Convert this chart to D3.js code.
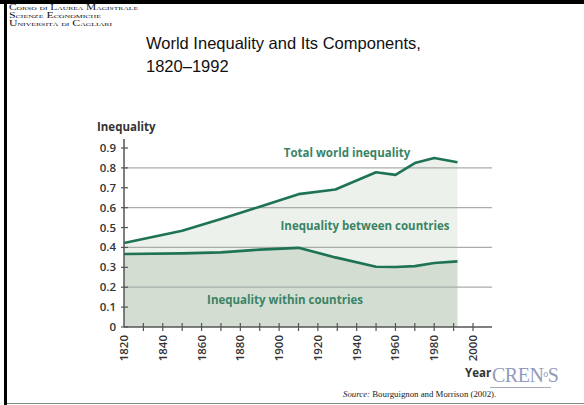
<!DOCTYPE html>
<html>
<head>
<meta charset="utf-8">
<script src="https://cdnjs.cloudflare.com/ajax/libs/d3/7.8.5/d3.min.js"></script>
<style>
  html, body { margin: 0; padding: 0; background: #fff; }
  svg { display: block; }
</style>
</head>
<body>
<script>
// Benchmark years and mean log deviation components (Bourguignon & Morrison, 2002)
const years = [1820, 1850, 1870, 1890, 1910, 1929, 1950, 1960, 1970, 1980, 1992];
const totalInequality = [0.422, 0.484, 0.543, 0.605, 0.668, 0.691, 0.778, 0.765, 0.824, 0.850, 0.828];
const withinInequality = [0.367, 0.370, 0.375, 0.389, 0.398, 0.350, 0.303, 0.302, 0.306, 0.322, 0.330];
const yTicks = [0, 0.1, 0.2, 0.3, 0.4, 0.5, 0.6, 0.7, 0.8, 0.9];
const gridValues = [0.2, 0.4, 0.6, 0.8];
const xTickLabels = [1820, 1840, 1860, 1880, 1900, 1920, 1940, 1960, 1980, 2000];
const headerLines = ["Corso di Laurea Magistrale", "Scienze Economiche", "Università di Cagliari"];
const headerWidths = [129, 92, 103];
const titleLines = ["World Inequality and Its Components,", "1820–1992"];

const W = 584, H = 405;
const svg = d3.select("body").append("svg").attr("width", W).attr("height", H);

// slide frame
svg.append("rect").attr("x", 0).attr("y", 0).attr("width", W).attr("height", 4).attr("fill", "#000");
svg.append("rect").attr("x", 4).attr("y", 0).attr("width", 3).attr("height", H).attr("fill", "#000");
svg.append("line").attr("x1", 7).attr("x2", W).attr("y1", 403.5).attr("y2", 403.5)
  .attr("stroke", "#888").attr("stroke-width", 1);

// header
svg.append("g").selectAll("text").data(headerLines).join("text")
  .attr("x", 9).attr("y", (d, i) => 10 + i * 8)
  .attr("font-family", "Liberation Serif, serif").attr("font-size", 7.6)
  .attr("font-variant", "small-caps").attr("fill", "#111")
  .attr("textLength", (d, i) => headerWidths[i]).attr("lengthAdjust", "spacingAndGlyphs")
  .text(d => d);

// title
svg.append("g").selectAll("text").data(titleLines).join("text")
  .attr("x", 146).attr("y", (d, i) => 49 + i * 23)
  .attr("font-family", "Liberation Sans, Arial, sans-serif").attr("font-size", 16.5)
  .attr("fill", "#111")
  .text(d => d);

// scales
const x = d3.scaleLinear().domain([1820, 2000]).range([124, 473]);
const y = d3.scaleLinear().domain([0, 0.9]).range([327, 148]);
const xEnd = 492;

const pts = years.map((yr, i) => ({ yr, total: totalInequality[i], within: withinInequality[i] }));

// between-country band (total above within)
svg.append("path").datum(pts)
  .attr("d", d3.area().x(d => x(d.yr)).y0(d => y(d.within)).y1(d => y(d.total)))
  .attr("fill", "#edf1eb");
// within-country band
svg.append("path").datum(pts)
  .attr("d", d3.area().x(d => x(d.yr)).y0(y(0)).y1(d => y(d.within)))
  .attr("fill", "#d3ddd2");

// gridlines
svg.append("g").selectAll("line").data(gridValues).join("line")
  .attr("x1", x(1820)).attr("x2", xEnd)
  .attr("y1", d => y(d)).attr("y2", d => y(d))
  .attr("stroke", "#a9aca8").attr("stroke-width", 1.3);

// lines
const lineColor = "#1f7355";
svg.append("path").datum(pts)
  .attr("d", d3.line().x(d => x(d.yr)).y(d => y(d.total)))
  .attr("fill", "none").attr("stroke", lineColor).attr("stroke-width", 2.6)
  .attr("stroke-linejoin", "round");
svg.append("path").datum(pts)
  .attr("d", d3.line().x(d => x(d.yr)).y(d => y(d.within)))
  .attr("fill", "none").attr("stroke", lineColor).attr("stroke-width", 2.6)
  .attr("stroke-linejoin", "round");

// y axis
const yAxisG = svg.append("g").attr("transform", `translate(${x(1820)},0)`);
yAxisG.append("line").attr("x1", 0).attr("x2", 0).attr("y1", y(0)).attr("y2", 139)
  .attr("stroke", "#555").attr("stroke-width", 1.5);
yAxisG.selectAll(".yt").data(yTicks).join("line").attr("class", "yt")
  .attr("x1", -3).attr("x2", 4).attr("y1", d => y(d)).attr("y2", d => y(d))
  .attr("stroke", "#555").attr("stroke-width", 1.2);
yAxisG.selectAll(".yl").data(yTicks).join("text").attr("class", "yl")
  .attr("x", -8).attr("y", d => y(d)).attr("dy", "0.35em")
  .attr("text-anchor", "end")
  .attr("font-family", "Open Sans, sans-serif").attr("font-weight", 600)
  .attr("font-size", 11.5).attr("fill", "#333")
  .text(d => d === 0 ? "0" : d3.format(".1f")(d));
svg.append("text").attr("x", 97).attr("y", 131)
  .attr("font-family", "Open Sans, sans-serif").attr("font-weight", 700)
  .attr("font-size", 11.5).attr("fill", "#333").text("Inequality");

// x axis
const xAxisG = svg.append("g").attr("transform", `translate(0,${y(0)})`);
xAxisG.append("line").attr("x1", x(1820)).attr("x2", xEnd).attr("y1", 0).attr("y2", 0)
  .attr("stroke", "#555").attr("stroke-width", 1.5);
xAxisG.selectAll(".xt").data(d3.range(1830, 2001, 10)).join("line").attr("class", "xt")
  .attr("x1", d => x(d)).attr("x2", d => x(d)).attr("y1", -4).attr("y2", 4)
  .attr("stroke", "#555").attr("stroke-width", 1.2);
xAxisG.selectAll(".xl").data(xTickLabels).join("text").attr("class", "xl")
  .attr("transform", d => `translate(${x(d)},8) rotate(-90)`)
  .attr("dy", "0.35em").attr("text-anchor", "end")
  .attr("font-family", "Open Sans, sans-serif").attr("font-weight", 600)
  .attr("font-size", 11.5).attr("fill", "#333")
  .text(d => d);
svg.append("text").attr("x", 465).attr("y", 377)
  .attr("font-family", "Open Sans, sans-serif").attr("font-weight", 700)
  .attr("font-size", 11.5).attr("fill", "#333").text("Year");

// series labels
const labelStyle = sel => sel.attr("font-family", "Open Sans, sans-serif").attr("font-weight", 700)
  .attr("font-size", 11.5).attr("fill", "#3a8466").attr("text-anchor", "middle");
svg.append("text").attr("x", 347).attr("y", 157).call(labelStyle).text("Total world inequality");
svg.append("text").attr("x", 365).attr("y", 230).call(labelStyle).text("Inequality between countries");
svg.append("text").attr("x", 285).attr("y", 304).call(labelStyle).text("Inequality within countries");

// logo
const logo = svg.append("text").attr("x", 492).attr("y", 382)
  .attr("font-family", "Liberation Serif, serif").attr("font-size", 20)
  .attr("fill", "#929bbb").attr("letter-spacing", -0.5);
logo.append("tspan").text("CREN");
logo.append("tspan").attr("font-size", 10).attr("dy", -5).text("o");
logo.append("tspan").attr("dy", 5).text("S");
svg.append("line").attr("x1", 490).attr("x2", 551).attr("y1", 387.5).attr("y2", 387.5)
  .attr("stroke", "#a4a9bb").attr("stroke-width", 1.2);

// source
const src = svg.append("text").attr("x", 343).attr("y", 397)
  .attr("font-family", "Liberation Serif, serif").attr("font-size", 8.8).attr("fill", "#222");
src.append("tspan").attr("font-style", "italic").text("Source:");
src.append("tspan").text(" Bourguignon and Morrison (2002).");
</script>
</body>
</html>
